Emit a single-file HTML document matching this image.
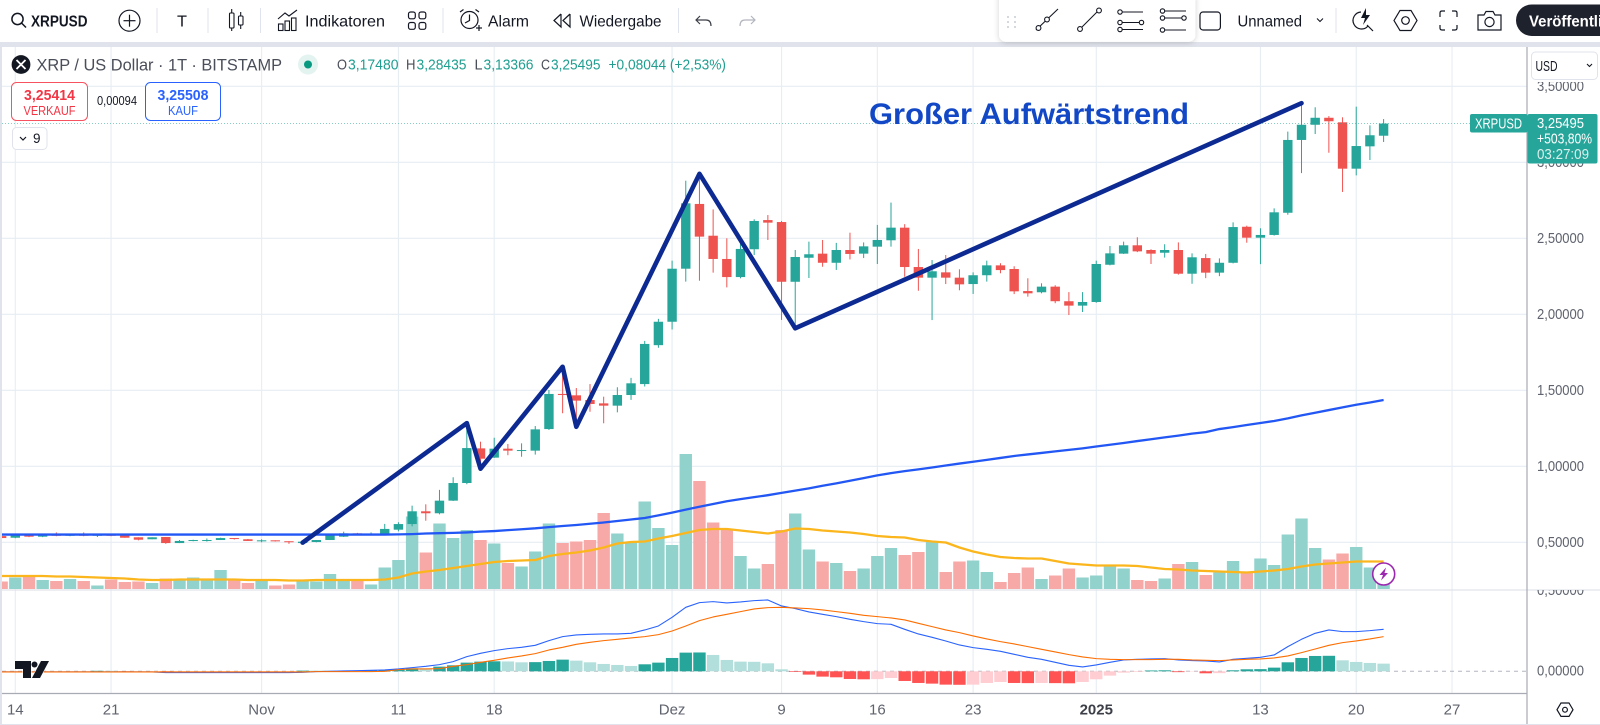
<!DOCTYPE html>
<html lang="de">
<head>
<meta charset="utf-8">
<title>XRP / US Dollar Chart</title>
<style>
  html,body{margin:0;padding:0;background:#fff;width:1600px;height:725px;overflow:hidden}
  svg{display:block}
  text{font-family:"Liberation Sans",sans-serif}
</style>
</head>
<body>
<svg id="chart" xmlns="http://www.w3.org/2000/svg" width="1600" height="725" viewBox="0 0 1600 725">
  <defs>
    <clipPath id="mainClip"><rect x="2" y="47" width="1525" height="543"/></clipPath>
    <clipPath id="macdClip"><rect x="2" y="590" width="1525" height="103"/></clipPath>
    <clipPath id="axisClip"><rect x="1528" y="590" width="72" height="103"/></clipPath>
    <clipPath id="publishClip"><rect x="1516" y="0" width="84" height="42"/></clipPath>
    <filter id="cardShadow" x="-10%" y="-20%" width="120%" height="150%"><feDropShadow dx="0" dy="1" stdDeviation="3" flood-color="#000" flood-opacity=".18"/></filter>
  </defs>

  <rect x="0" y="0" width="1600" height="725" fill="#fff"/>
  <rect x="0" y="42" width="1600" height="5" fill="#e0e3eb"/>
  <rect x="0" y="47" width="2" height="678" fill="#e0e3eb"/>
  <rect x="0" y="724" width="1600" height="1" fill="#e0e3eb"/>

  <g id="gridLayer"></g>
  <g id="mainLayer" clip-path="url(#mainClip)"></g>
  <g id="macdLayer" clip-path="url(#macdClip)"></g>

  <line x1="2" y1="590" x2="1600" y2="590" stroke="#e0e3eb" stroke-width="1.2"/>
  <line x1="2" y1="693.5" x2="1527" y2="693.5" stroke="#a8abb4" stroke-width="1.2"/>
  <line x1="1527" y1="47" x2="1527" y2="724" stroke="#a8abb4" stroke-width="1.2"/>

  <g id="axisLayer"></g>
  <text x="1537" y="595" font-size="15" fill="#5f636d" textLength="47" lengthAdjust="spacingAndGlyphs" clip-path="url(#axisClip)">0,50000</text>

  <!-- Annotation -->
  <text x="869" y="124" font-size="30" font-weight="700" fill="#1248c6" textLength="320" lengthAdjust="spacingAndGlyphs">Großer Aufwärtstrend</text>

  <!-- TradingView logo -->
  <g fill="#131722" stroke="#fff" stroke-width="1" paint-order="stroke">
    <polygon points="15,661 31,661 31,678 23,678 23,669 15,669"/>
    <circle cx="34.5" cy="664.5" r="3"/>
    <polygon points="41,661 49,661 40,678 32,678"/>
  </g>

  <!-- Lightning badge -->
  <g>
    <circle cx="1383.7" cy="574" r="11" fill="#fff" stroke="#9c27b0" stroke-width="1.6"/>
    <polygon points="1386,567.5 1379.5,575 1383,575 1381,580.5 1388,573 1384.5,573" fill="#9c27b0"/>
  </g>

  <!-- Top toolbar -->
  <g>
    <g>
      <circle cx="17.5" cy="19" r="5.6" fill="none" stroke="#131722" stroke-width="1.5"/>
      <line x1="21.5" y1="23" x2="26" y2="27.5" stroke="#131722" stroke-width="1.5"/>
      <text x="31" y="26.5" font-size="16" font-weight="700" fill="#131722" textLength="56.5" lengthAdjust="spacingAndGlyphs">XRPUSD</text>
    </g>
    <g fill="none" stroke="#131722" stroke-width="1.2">
      <circle cx="129.5" cy="20.7" r="10.5"/>
      <line x1="123.5" y1="20.7" x2="135.5" y2="20.7"/>
      <line x1="129.5" y1="14.7" x2="129.5" y2="26.7"/>
    </g>
    <line x1="157" y1="8" x2="157" y2="33" stroke="#e0e3eb"/>
    <text x="177" y="26.5" font-size="16" fill="#131722" textLength="10" lengthAdjust="spacingAndGlyphs">T</text>
    <line x1="208" y1="8" x2="208" y2="33" stroke="#e0e3eb"/>
    <g fill="none" stroke="#131722" stroke-width="1.1">
      <rect x="229.5" y="13" width="4.5" height="15" rx="1"/>
      <line x1="231.7" y1="9" x2="231.7" y2="13"/><line x1="231.7" y1="28" x2="231.7" y2="31"/>
      <rect x="238.5" y="16" width="4.5" height="9" rx="1"/>
      <line x1="240.7" y1="12" x2="240.7" y2="16"/><line x1="240.7" y1="25" x2="240.7" y2="29"/>
    </g>
    <line x1="260.5" y1="8" x2="260.5" y2="33" stroke="#e0e3eb"/>
    <g>
      <g fill="none" stroke="#131722" stroke-width="1.1">
        <rect x="278.5" y="24" width="4.5" height="6.5"/><rect x="285" y="21" width="4.5" height="9.5"/><rect x="291.5" y="18" width="4.5" height="12.5"/>
        <polyline points="278,19 285,13 289,16 297,10"/>
      </g>
      <text x="305" y="26.5" font-size="16" fill="#131722" textLength="80" lengthAdjust="spacingAndGlyphs">Indikatoren</text>
    </g>
    <g fill="none" stroke="#131722" stroke-width="1.2">
      <rect x="408.5" y="12" width="6.8" height="6.8" rx="2"/><rect x="419" y="12" width="6.8" height="6.8" rx="2"/>
      <rect x="408.5" y="22.5" width="6.8" height="6.8" rx="2"/><rect x="419" y="22.5" width="6.8" height="6.8" rx="2"/>
    </g>
    <line x1="443" y1="8" x2="443" y2="33" stroke="#e0e3eb"/>
    <g>
      <g fill="none" stroke="#131722" stroke-width="1.2">
        <circle cx="469.5" cy="20" r="8.5"/>
        <polyline points="469.5,14.5 469.5,20.5 465,23"/>
        <line x1="460" y1="12" x2="463.5" y2="9.5"/><line x1="479" y1="12" x2="475.5" y2="9.5"/>
        <line x1="476" y1="28" x2="482" y2="28"/><line x1="479" y1="25" x2="479" y2="31"/>
      </g>
      <text x="488" y="26.5" font-size="16" fill="#131722" textLength="41" lengthAdjust="spacingAndGlyphs">Alarm</text>
    </g>
    <g>
      <g fill="none" stroke="#131722" stroke-width="1.2">
        <polyline points="561,14 554,20.5 561,27 561,14"/>
        <polyline points="570,14 563,20.5 570,27 570,14"/>
      </g>
      <text x="579.5" y="26.5" font-size="16" fill="#131722" textLength="82" lengthAdjust="spacingAndGlyphs">Wiedergabe</text>
    </g>
    <line x1="678.5" y1="8" x2="678.5" y2="33" stroke="#e0e3eb"/>
    <path d="M700,16 L696,20 L700,24 M696,20 H706 Q711,20 711,26" fill="none" stroke="#3c3f47" stroke-width="1.2"/>
    <path d="M751,16 L755,20 L751,24 M755,20 H745 Q740,20 740,26" fill="none" stroke="#b2b5be" stroke-width="1.2"/>

    <rect x="999" y="-8" width="196.5" height="49.7" rx="7" fill="#fff" filter="url(#cardShadow)"/>
    <g fill="#c8cbd2">
      <circle cx="1008" cy="17" r="1"/><circle cx="1015" cy="17" r="1"/>
      <circle cx="1008" cy="22" r="1"/><circle cx="1015" cy="22" r="1"/>
      <circle cx="1008" cy="27" r="1"/><circle cx="1015" cy="27" r="1"/>
    </g>
    <g fill="none" stroke="#131722" stroke-width="1.1">
      <line x1="1036" y1="30" x2="1058" y2="9"/><circle cx="1038.5" cy="28" r="2.4" fill="#fff"/><circle cx="1047" cy="19.5" r="2.4" fill="#fff"/>
    </g>
    <g fill="none" stroke="#131722" stroke-width="1.1">
      <line x1="1080" y1="29" x2="1098" y2="11"/><circle cx="1080" cy="29" r="2.4" fill="#fff"/><circle cx="1099" cy="10.5" r="2.4" fill="#fff"/>
    </g>
    <g fill="none" stroke="#131722" stroke-width="1.1">
      <line x1="1121" y1="12" x2="1143" y2="12"/><line x1="1121" y1="22.5" x2="1140" y2="22.5"/><line x1="1121" y1="29.5" x2="1143" y2="29.5"/>
      <circle cx="1120" cy="12" r="2.2" fill="#fff"/><circle cx="1120" cy="22.5" r="2.2" fill="#fff"/><circle cx="1141.5" cy="22.5" r="2.2" fill="#fff"/><circle cx="1120" cy="29.5" r="2.2" fill="#fff"/>
    </g>
    <g fill="none" stroke="#131722" stroke-width="1.1">
      <line x1="1163" y1="11" x2="1186" y2="11"/><line x1="1163" y1="18" x2="1182" y2="18"/><line x1="1163" y1="30" x2="1186" y2="30"/>
      <circle cx="1162.5" cy="11" r="2.2" fill="#fff"/><circle cx="1162.5" cy="18" r="2.2" fill="#fff"/><circle cx="1184" cy="18" r="2.2" fill="#fff"/><circle cx="1162.5" cy="30" r="2.2" fill="#fff"/>
    </g>
    <rect x="1200" y="12" width="20.4" height="18" rx="3" fill="#fff" stroke="#131722" stroke-width="1.2"/>
    <text x="1237.5" y="26.5" font-size="16" fill="#131722" textLength="64.5" lengthAdjust="spacingAndGlyphs">Unnamed</text>
    <polyline points="1317,18.5 1320,21.5 1323,18.5" fill="none" stroke="#131722" stroke-width="1.1"/>
    <line x1="1336" y1="8" x2="1336" y2="33" stroke="#e0e3eb"/>
    <g fill="none" stroke="#131722" stroke-width="1.2">
      <path d="M1361,12 A8.5,8.5 0 1 0 1368,26"/>
      <polygon points="1366,8 1361,18 1365,18 1363,25 1370,15 1366,15" fill="#131722" stroke="none"/>
      <line x1="1367" y1="25" x2="1373" y2="31"/>
    </g>
    <g fill="none" stroke="#131722" stroke-width="1.2">
      <polygon points="1394,20.5 1400,10.5 1411,10.5 1417,20.5 1411,30.5 1400,30.5"/>
      <circle cx="1405.5" cy="20.5" r="3.8"/>
    </g>
    <path d="M1440,17 V13 Q1440,11 1442,11 H1445 M1452,11 H1455 Q1457,11 1457,13 V17 M1457,25 V28 Q1457,30 1455,30 H1452 M1445,30 H1442 Q1440,30 1440,28 V25" fill="none" stroke="#131722" stroke-width="1.2"/>
    <g fill="none" stroke="#131722" stroke-width="1.2">
      <path d="M1478,15 H1484 L1486,11.5 H1493 L1495,15 H1501 V30 H1478 Z"/>
      <circle cx="1489.5" cy="22" r="4.6"/>
    </g>
    <g clip-path="url(#publishClip)">
      <rect x="1516" y="4.5" width="120" height="31.5" rx="15.7" fill="#1e222d"/>
      <text x="1529" y="26.5" font-size="16" font-weight="700" fill="#fff" textLength="108" lengthAdjust="spacingAndGlyphs">Veröffentlichen</text>
    </g>
  </g>

  <!-- Legend -->
  <g>
    <g>
      <circle cx="21" cy="64.5" r="9.4" fill="#131722"/>
      <path d="M16.5,60 L25.5,69 M25.5,60 L16.5,69" stroke="#fff" stroke-width="1.8"/>
    </g>
    <text x="36.5" y="70.5" font-size="16.5" fill="#4a4e59" textLength="245.5" lengthAdjust="spacingAndGlyphs">XRP / US Dollar · 1T · BITSTAMP</text>
    <circle cx="308" cy="64.5" r="10" fill="#e3f3f0"/>
    <circle cx="308" cy="64.5" r="4" fill="#089981"/>
    <g font-size="14.5">
      <text x="337" y="69.5" fill="#4a4e59" textLength="10" lengthAdjust="spacingAndGlyphs">O</text>
      <text x="348" y="69.5" fill="#1f9e90" textLength="50.5" lengthAdjust="spacingAndGlyphs">3,17480</text>
      <text x="406" y="69.5" fill="#4a4e59" textLength="9.5" lengthAdjust="spacingAndGlyphs">H</text>
      <text x="416.5" y="69.5" fill="#1f9e90" textLength="50" lengthAdjust="spacingAndGlyphs">3,28435</text>
      <text x="474.5" y="69.5" fill="#4a4e59" textLength="8" lengthAdjust="spacingAndGlyphs">L</text>
      <text x="483.5" y="69.5" fill="#1f9e90" textLength="50" lengthAdjust="spacingAndGlyphs">3,13366</text>
      <text x="541" y="69.5" fill="#4a4e59" textLength="9" lengthAdjust="spacingAndGlyphs">C</text>
      <text x="551" y="69.5" fill="#1f9e90" textLength="49.5" lengthAdjust="spacingAndGlyphs">3,25495</text>
      <text x="608.5" y="69.5" fill="#1f9e90" textLength="117.5" lengthAdjust="spacingAndGlyphs">+0,08044 (+2,53%)</text>
    </g>
    <g>
      <rect x="11.5" y="82.5" width="76" height="38" rx="5" fill="#fff" stroke="#f7525f"/>
      <text x="49.5" y="100" font-size="14.5" font-weight="700" fill="#f23645" text-anchor="middle" textLength="51" lengthAdjust="spacingAndGlyphs">3,25414</text>
      <text x="49.5" y="115" font-size="13" fill="#f23645" text-anchor="middle" textLength="52" lengthAdjust="spacingAndGlyphs">VERKAUF</text>
    </g>
    <text x="97" y="105" font-size="13" fill="#131722" textLength="40" lengthAdjust="spacingAndGlyphs">0,00094</text>
    <g>
      <rect x="145.5" y="82.5" width="75" height="38" rx="5" fill="#fff" stroke="#2962ff"/>
      <text x="183" y="100" font-size="14.5" font-weight="700" fill="#2962ff" text-anchor="middle" textLength="51" lengthAdjust="spacingAndGlyphs">3,25508</text>
      <text x="183" y="115" font-size="13" fill="#2962ff" text-anchor="middle" textLength="30" lengthAdjust="spacingAndGlyphs">KAUF</text>
    </g>
    <g>
      <rect x="12.5" y="127.5" width="34.5" height="22" rx="4" fill="#fff" stroke="#e0e3eb"/>
      <polyline points="20,137 23,140 26,137" fill="none" stroke="#131722" stroke-width="1.2"/>
      <text x="33" y="143" font-size="13.5" fill="#131722">9</text>
    </g>
  </g>

  <!-- Price axis overlays -->
  <g>
    <rect x="1528" y="47" width="72" height="35" fill="#fff"/>
    <g>
      <rect x="1531.5" y="52" width="66" height="27.5" rx="4" fill="#fff" stroke="#e0e3eb"/>
      <text x="1535.5" y="71" font-size="15" fill="#131722" textLength="22" lengthAdjust="spacingAndGlyphs">USD</text>
      <polyline points="1587,64 1589.5,66.5 1592,64" fill="none" stroke="#131722" stroke-width="1.1"/>
    </g>
    <g>
      <rect x="1470" y="114" width="57.5" height="18.5" rx="2" fill="#26a69a"/>
      <text x="1475" y="128.5" font-size="15" fill="#fff" textLength="47" lengthAdjust="spacingAndGlyphs">XRPUSD</text>
    </g>
    <g>
      <rect x="1527.5" y="114" width="70" height="49.5" rx="2" fill="#26a69a"/>
      <text x="1537" y="128" font-size="15" fill="#fff" textLength="47" lengthAdjust="spacingAndGlyphs">3,25495</text>
      <text x="1537" y="143.5" font-size="15" fill="#fff" textLength="55" lengthAdjust="spacingAndGlyphs">+503,80%</text>
      <text x="1537" y="159" font-size="15" fill="#d8efec" textLength="52" lengthAdjust="spacingAndGlyphs">03:27:09</text>
    </g>
    <g fill="none" stroke="#131722" stroke-width="1.2">
      <polygon points="1557,709.7 1561,703 1569,703 1573,709.7 1569,716.4 1561,716.4"/>
      <circle cx="1565" cy="709.7" r="2.4"/>
    </g>
  </g>
</svg>

<script>
// ---- Chart data ----
const firstDayOffset = -1; // first bar is one day before the "14" tick
const timeTickDays = [0, 7, 18, 28, 35, 48, 56, 63, 70, 79, 91, 98, 105];
const timeTickLabels = ["14", "21", "Nov", "11", "18", "Dez", "9", "16", "23", "2025", "13", "20", "27"];
const priceTicks = [0.5, 1, 1.5, 2, 2.5, 3, 3.5];
const priceTickLabels = ["0,50000", "1,00000", "1,50000", "2,00000", "2,50000", "3,00000", "3,50000"];
const macdTicks = [0];
const macdTickLabels = ["0,00000"];
const lastPrice = 3.25495;

const opens = [.541,.530,.550,.537,.550,.543,.550,.543,.550,.548,.533,.520,.535,.495,.510,.510,.515,.528,.520,.507,.513,.507,.495,.502,.515,.537,.559,.548,.550,.583,.620,.704,.691,.774,.890,1.118,1.057,1.116,1.101,1.103,1.245,1.476,1.467,1.436,1.414,1.399,1.469,1.541,1.797,1.951,2.300,2.726,2.517,2.364,2.245,2.428,2.620,2.607,2.214,2.372,2.399,2.339,2.423,2.399,2.445,2.487,2.570,2.311,2.241,2.276,2.241,2.199,2.257,2.322,2.298,2.153,2.145,2.182,2.086,2.057,2.081,2.326,2.399,2.454,2.423,2.405,2.423,2.267,2.370,2.274,2.339,2.576,2.504,2.522,2.668,3.147,3.247,3.293,3.263,2.958,3.105,3.1748];
const highs = [.545,.553,.555,.553,.565,.553,.565,.553,.553,.551,.533,.533,.535,.515,.517,.525,.530,.528,.522,.520,.513,.507,.505,.515,.546,.570,.562,.565,.621,.632,.741,.750,.845,.928,1.282,1.162,1.188,1.147,1.151,1.265,1.502,1.649,1.515,1.541,1.458,1.520,1.582,1.825,1.970,2.353,2.879,2.909,2.690,2.500,2.490,2.625,2.653,2.614,2.423,2.478,2.489,2.470,2.537,2.473,2.588,2.735,2.593,2.430,2.357,2.390,2.296,2.276,2.353,2.336,2.316,2.237,2.204,2.191,2.146,2.146,2.353,2.449,2.478,2.507,2.428,2.461,2.473,2.401,2.397,2.368,2.605,2.583,2.566,2.697,3.202,3.398,3.362,3.304,3.296,3.366,3.243,3.28435];
const lows = [.525,.527,.534,.534,.540,.540,.540,.535,.540,.530,.513,.520,.490,.495,.507,.505,.515,.518,.509,.500,.505,.490,.495,.500,.515,.535,.545,.546,.550,.572,.605,.642,.684,.772,.882,.987,1.055,1.073,1.063,1.077,1.239,1.349,1.262,1.359,1.283,1.355,1.437,1.525,1.780,1.900,2.215,2.221,2.274,2.177,2.237,2.390,2.489,1.963,1.930,2.239,2.313,2.292,2.361,2.370,2.331,2.445,2.247,2.155,1.962,2.199,2.158,2.134,2.215,2.270,2.133,2.116,2.138,2.073,1.995,2.015,2.076,2.322,2.397,2.409,2.331,2.373,2.261,2.201,2.238,2.251,2.335,2.471,2.330,2.518,2.655,2.929,3.186,3.063,2.805,2.914,3.015,3.13366];
const closes = [.528,.550,.537,.550,.543,.550,.543,.550,.543,.530,.517,.533,.495,.509,.515,.515,.528,.524,.509,.513,.507,.502,.504,.515,.546,.559,.548,.557,.588,.620,.704,.691,.774,.890,1.120,1.050,1.116,1.103,1.107,1.243,1.476,1.469,1.432,1.410,1.399,1.469,1.546,1.805,1.951,2.300,2.730,2.511,2.364,2.245,2.430,2.614,2.603,2.214,2.377,2.395,2.339,2.423,2.397,2.447,2.489,2.570,2.311,2.241,2.283,2.241,2.197,2.257,2.322,2.291,2.151,2.138,2.182,2.086,2.057,2.081,2.331,2.401,2.454,2.414,2.399,2.423,2.267,2.375,2.274,2.339,2.574,2.504,2.522,2.671,3.147,3.247,3.293,3.270,2.958,3.107,3.178,3.25495];

const volumes = [15,23,25,18,16,20,16,7,19,14,15,12,21,19,23,21,38,19,12,16,7,9,18,15,30,17,17,9,43,58,145,73,131,102,118,98,91,52,45,75,131,92,95,98,152,111,95,175,122,88,270,216,133,121,66,41,50,118,151,79,55,52,36,41,66,82,68,74,95,34,55,57,34,14,32,43,20,27,41,23,27,46,41,18,16,21,50,54,28,33,56,33,61,48,109,141,82,59,71,84,43,10];
const volumeAverage = [26,26,26,26,25,25,24,23,22,21,19,18,18,19,19,19,19,19,18,18,18,17,17,18,18,18,18,18,19,23,31,35,38,42,46,50,54,56,57,58,66,70,73,77,83,91,94,95,101,106,112,118,120,120,117,114,111,115,121,120,117,115,113,110,106,104,103,98,95,93,83,75,69,64,62,61,61,56,51,49,47,47,47,46,43,40,39,37,36,35,34,33,35,37,40,45,49,51,53,55,55,55];
const longAverage = [.551,.551,.551,.551,.551,.551,.551,.551,.551,.551,.551,.551,.551,.551,.551,.551,.551,.551,.551,.551,.551,.551,.551,.551,.551,.551,.551,.551,.551,.552,.554,.558,.560,.562,.565,.570,.574,.580,.586,.592,.600,.607,.614,.622,.630,.640,.650,.660,.677,.695,.715,.734,.752,.770,.784,.797,.810,.825,.840,.855,.872,.888,.905,.922,.940,.955,.968,.980,.992,1.005,1.018,1.030,1.042,1.055,1.068,1.078,1.088,1.098,1.108,1.118,1.130,1.142,1.153,1.166,1.178,1.190,1.202,1.215,1.225,1.245,1.258,1.272,1.285,1.298,1.315,1.335,1.352,1.370,1.388,1.405,1.420,1.436];

const macdLine = [-4,-4,-4,-4,-4,-4,-4,-4,-4,-4,-4,-4,-8,-8,-8,-8,-8,-8,-8,-8,-8,-8,-6,-2,0,2,4,6,8,14,22,30,40,58,88,108,124,136,144,156,184,208,218,222,224,224,228,248,272,324,384,412,418,410,416,424,428,392,376,356,342,328,312,298,286,282,252,224,204,182,158,142,132,120,102,84,72,54,36,26,38,54,68,72,74,76,68,64,62,56,72,78,84,98,148,192,228,248,238,238,244,252];
const signalLine = [-4,-4,-4,-4,-4,-4,-4,-4,-4,-4,-4,-4,-4,-4,-4,-4,-4,-4,-4,-4,-4,-4,-4,-2,-2,-2,-2,-2,0,10,14,14,16,30,40,54,66,80,92,106,128,144,162,174,184,192,200,208,220,242,272,304,326,342,358,374,382,384,380,376,368,358,348,336,328,320,308,288,268,248,232,212,194,178,164,148,132,116,100,86,76,72,70,70,70,72,72,68,66,64,68,72,74,80,92,112,134,156,172,182,194,208];
const macdHistogram = [-1,-1,-1,-1,-1,-1,-1,3,3,-1,-1,-1,-2,-2,-2,-2,-2,-2,-2,-2,-2,-2,4,4,4,4,4,6,8,12,18,18,28,36,52,58,60,59,54,55,62,70,64,54,44,38,32,42,52,80,112,113,98,68,58,57,48,12,-4,-20,-32,-36,-46,-48,-47,-40,-58,-70,-74,-80,-81,-80,-70,-64,-70,-71,-70,-71,-72,-64,-48,-26,-8,-4,5,6,-5,-2,-12,-11,6,12,13,22,54,80,92,93,66,56,50,46];

const trendBars = [21, 33, 34, 40, 41, 50, 57, 94];
const trendPrices = [.498, 1.284, .984, 1.655, 1.26, 2.924, 1.908, 3.389];

// ---- Axis functions ----
const dayX = d => 15.3 + 13.683 * d;
const barX = i => dayX(i + firstDayOffset);
const priceY = p => 618.3 - 152 * p;
const volumeY = v => 589 - v / 2;
const macdY = m => 671.3 - m / 6;

const NS = 'http://www.w3.org/2000/svg';
function shape(tag, geometry, parent) {
  const el = document.createElementNS(NS, tag);
  for (const key in geometry) el.setAttribute(key, geometry[key]);
  parent.appendChild(el);
  return el;
}
const gridLayer = document.getElementById('gridLayer');
const mainLayer = document.getElementById('mainLayer');
const macdLayer = document.getElementById('macdLayer');
const axisLayer = document.getElementById('axisLayer');
const GREEN = '#26a69a', RED = '#ef5350';

// grid + time axis labels
timeTickDays.forEach((d, i) => {
  const line = shape('line', {x1: dayX(d), x2: dayX(d), y1: 47, y2: 693, stroke: '#e6edf3', 'stroke-width': 1.1}, gridLayer);
  
  
  const isYear = timeTickLabels[i] === '2025';
  const label = shape('text', {x: dayX(d), y: 714.5, 'font-size': 15, 'text-anchor': 'middle', fill: isYear ? '#3c3f47' : '#5f636d', 'font-weight': isYear ? 700 : 400}, axisLayer);
  label.textContent = timeTickLabels[i];
  
  
});
priceTicks.forEach((p, i) => {
  const line = shape('line', {x1: 2, x2: 1527, y1: priceY(p), y2: priceY(p), stroke: '#e6edf3', 'stroke-width': 1.1}, gridLayer);
  
  
  const label = shape('text', {x: 1537, y: priceY(p) + 4.5, 'font-size': 15, fill: '#5f636d', textLength: 47, lengthAdjust: 'spacingAndGlyphs'}, axisLayer);
  label.textContent = priceTickLabels[i];
  
  
});
macdTicks.forEach((m, i) => {
  const label = shape('text', {x: 1537, y: macdY(m) + 4, 'font-size': 15, fill: '#5f636d', textLength: 47, lengthAdjust: 'spacingAndGlyphs'}, axisLayer);
  label.textContent = macdTickLabels[i];
  
  
});

function linePath(values, yFn) {
  return values.map((v, i) => barX(i).toFixed(2) + ',' + yFn(v).toFixed(2)).join(' ');
}

// volume bars
volumes.forEach((v, i) => {
  const up = closes[i] >= opens[i];
  const bar = shape('rect', {x: barX(i) - 6.2, y: volumeY(v), width: 12.4, height: 589 - volumeY(v), fill: up ? '#92d2cc' : '#f7a9a7'}, mainLayer);
  
  
});

// candles
opens.forEach((o, i) => {
  const c = closes[i], up = c >= o, color = up ? GREEN : RED, x = barX(i);
  const wick = shape('line', {x1: x, x2: x, y1: priceY(highs[i]), y2: priceY(lows[i]), stroke: color, 'stroke-width': 1}, mainLayer);
  
  
  const top = priceY(Math.max(o, c));
  const body = shape('rect', {x: x - 4.7, y: top, width: 9.4, height: Math.max(1, priceY(Math.min(o, c)) - top), fill: color}, mainLayer);
  
  
});

// last price line
const priceLine = shape('line', {x1: 2, x2: 1527, y1: priceY(lastPrice), y2: priceY(lastPrice), stroke: '#26a69a', 'stroke-width': 1, 'stroke-dasharray': '1 2', opacity: .55}, mainLayer);



// moving averages
const volMa = shape('polyline', {points: linePath(volumeAverage, volumeY), fill: 'none', stroke: '#fbb61d', 'stroke-width': 2.3, 'stroke-linejoin': 'round'}, mainLayer);


const longMa = shape('polyline', {points: linePath(longAverage, priceY), fill: 'none', stroke: '#2257f5', 'stroke-width': 2.3, 'stroke-linejoin': 'round'}, mainLayer);



// trend drawing
const trendPoints = trendBars.map((d, i) => dayX(d).toFixed(2) + ',' + priceY(trendPrices[i]).toFixed(2)).join(' ');
const trend = shape('polyline', {points: trendPoints, fill: 'none', stroke: '#0c2a92', 'stroke-width': 4.6, 'stroke-linejoin': 'round', 'stroke-linecap': 'round'}, mainLayer);



// macd zero line
const zeroLine = shape('line', {x1: 2, x2: 1527, y1: macdY(0), y2: macdY(0), stroke: '#b2b5be', 'stroke-width': 1, 'stroke-dasharray': '4 4'}, macdLayer);



// macd histogram
macdHistogram.forEach((m, i) => {
  const prev = i > 0 ? macdHistogram[i - 1] : m;
  const growing = m >= 0 ? m > prev : m < prev;
  const fill = m >= 0 ? (growing ? '#26a69a' : '#b2dfdb') : (growing ? '#ff5252' : '#ffcdd2');
  const top = Math.min(macdY(m), macdY(0));
  const bar = shape('rect', {x: barX(i) - 6.2, y: top, width: 12.4, height: Math.abs(macdY(m) - macdY(0)), fill: fill}, macdLayer);
  
  
});

const macdPath = shape('polyline', {points: linePath(macdLine, macdY), fill: 'none', stroke: '#2962ff', 'stroke-width': 1.1, 'stroke-linejoin': 'round'}, macdLayer);


const signalPath = shape('polyline', {points: linePath(signalLine, macdY), fill: 'none', stroke: '#ff6d00', 'stroke-width': 1.1, 'stroke-linejoin': 'round'}, macdLayer);


</script>
</body>
</html>
